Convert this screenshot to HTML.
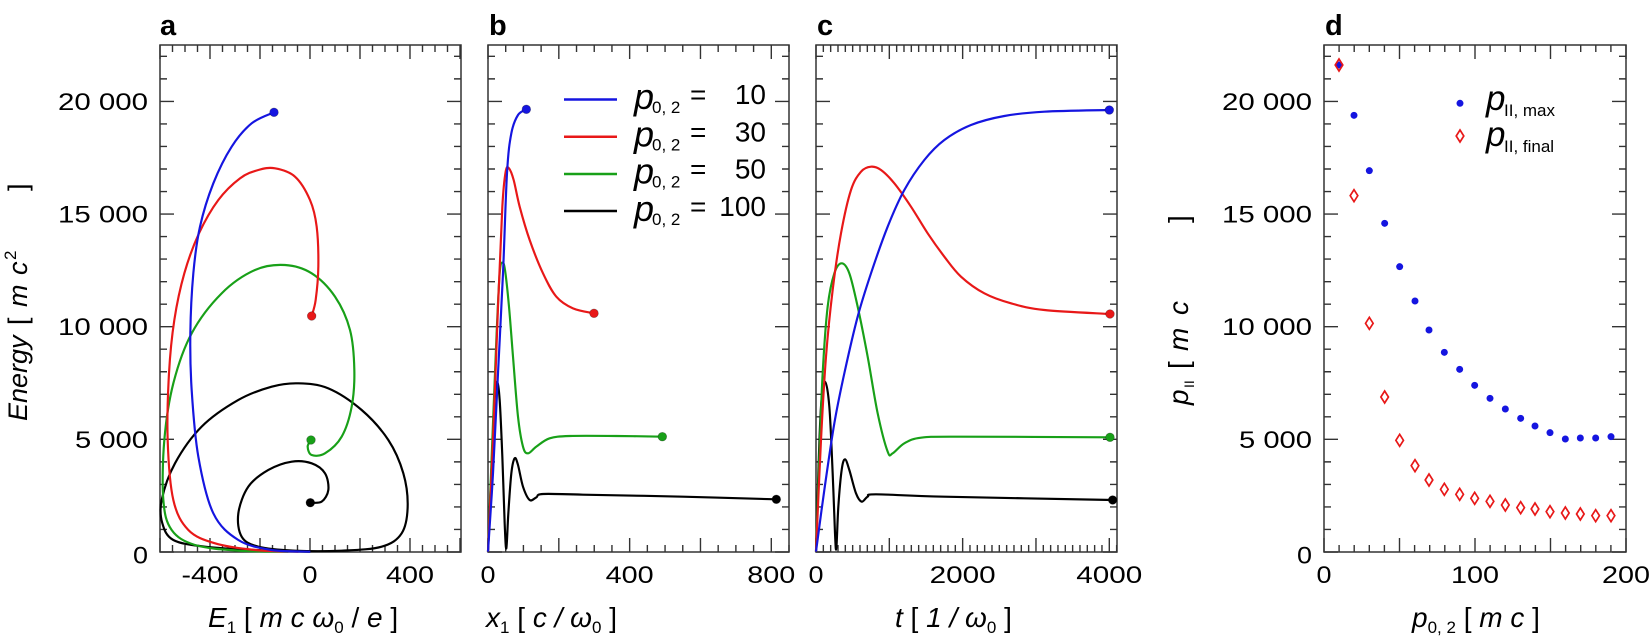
<!DOCTYPE html>
<html><head><meta charset="utf-8">
<style>
html,body{margin:0;padding:0;background:#fff;}
svg{display:block;font-family:"Liberation Sans","DejaVu Sans",sans-serif;}
</style></head>
<body>
<svg id="s" width="1650" height="642" viewBox="0 0 1650 642" xmlns="http://www.w3.org/2000/svg">
<g font-weight="bold" font-size="29">
<text x="160" y="35">a</text><text x="489" y="35">b</text><text x="817" y="35">c</text><text x="1325" y="35">d</text>
</g>
<!-- axis titles -->
<g font-size="28" fill="#000">
<text x="208" y="627"><tspan font-style="italic">E</tspan><tspan font-size="17" dy="6">1</tspan><tspan dy="-6"> [ </tspan><tspan font-style="italic">m c ω</tspan><tspan font-size="17" dy="6">0</tspan><tspan dy="-6"> / </tspan><tspan font-style="italic">e</tspan> ]</text>
<text x="486" y="627"><tspan font-style="italic">x</tspan><tspan font-size="17" dy="6">1</tspan><tspan dy="-6"> [ </tspan><tspan font-style="italic">c / ω</tspan><tspan font-size="17" dy="6">0</tspan><tspan dy="-6"> ]</tspan></text>
<text x="895" y="627"><tspan font-style="italic">t</tspan> [ <tspan font-style="italic">1 / ω</tspan><tspan font-size="17" dy="6">0</tspan><tspan dy="-6"> ]</tspan></text>
<text x="1412" y="627"><tspan font-style="italic">p</tspan><tspan font-size="17" dy="6">0, 2</tspan><tspan dy="-6"> [ </tspan><tspan font-style="italic">m c</tspan>  ]</text>
<g transform="translate(27,421) rotate(-90)" font-size="27">
<text x="0" y="0" font-style="italic">Energy</text>
<text x="96" y="0">[</text>
<text x="114" y="0" font-style="italic">m</text>
<text x="146" y="0" font-style="italic">c</text>
<text x="161" y="-11" font-size="17">2</text>
<text x="230" y="0">]</text>
</g>
<g transform="translate(1188,405) rotate(-90)" font-size="28">
<text x="0" y="0" font-style="italic">p</text>
<text x="17" y="6" font-size="14">II</text>
<text x="36" y="0">[</text>
<text x="54" y="0" font-style="italic">m</text>
<text x="90" y="0" font-style="italic">c</text>
<text x="182" y="0">]</text>
</g>
</g>
<!-- legend b -->
<g stroke-width="2.5">
<line x1="564" y1="99.5" x2="617" y2="99.5" stroke="#1515e0"/>
<line x1="564" y1="136.8" x2="617" y2="136.8" stroke="#e81818"/>
<line x1="564" y1="174" x2="617" y2="174" stroke="#18a018"/>
<line x1="564" y1="211" x2="617" y2="211" stroke="#000"/>
</g>
<g id="leg"></g>
<!-- legend d -->
<circle cx="1460" cy="103.3" r="3.5" fill="#1515e0"/>
<path d="M1460 130 L1463.8 136 L1460 142 L1456.2 136 Z" fill="none" stroke="#e81818" stroke-width="1.7"/>
<text x="1486" y="110" font-size="35" font-style="italic">p</text><text x="1504" y="116" font-size="17">II, max</text>
<text x="1486" y="146" font-size="35" font-style="italic">p</text><text x="1504" y="152" font-size="17">II, final</text>
<g id="ax"></g>
</svg>
<script>
var NS="http://www.w3.org/2000/svg",S=document.getElementById('s'),AX=document.getElementById('ax'),LEG=document.getElementById('leg');
function el(t,a,p){var e=document.createElementNS(NS,t);for(var k in a)e.setAttribute(k,a[k]);(p||AX).appendChild(e);return e;}
function txt(x,y,s,a,p){var e=el('text',Object.assign({x:x,y:y,'font-size':24},a||{}),p);e.textContent=s;return e;}
var B=552,T=45;
function Y(E){return B-E*0.02253;}
var BLUE="#1515e0",RED="#e81818",GREEN="#18a018",BLK="#000";
function panel(L,R,xmin,xmax,minor,major,xl,yl){
  var X=function(v){return L+(v-xmin)/(xmax-xmin)*(R-L);};
  el('rect',{x:L,y:T,width:R-L,height:B-T,fill:'none',stroke:'#333','stroke-width':1.5});
  var g='';
  for(var v=Math.ceil(xmin/minor)*minor;v<=xmax+1e-6;v+=minor){var x=X(v);var len=(Math.abs(v/major-Math.round(v/major))<1e-6)?14:7;g+='M'+x+' '+B+'v'+(-len)+'M'+x+' '+T+'v'+len;}
  for(var e=0;e<=22500;e+=1000){var y=Y(e);var len=(e%5000==0)?14:7;g+='M'+L+' '+y+'h'+len+'M'+R+' '+y+'h'+(-len);}
  el('path',{d:g,stroke:'#333','stroke-width':1.4,fill:'none'});
  xl.forEach(function(a){txt(X(a[0]),583,a[1],{'text-anchor':'middle',textLength:a[2],lengthAdjust:'spacingAndGlyphs'});});
  if(yl){[[0,'0',15],[5000,'5 000',73],[10000,'10 000',90],[15000,'15 000',90],[20000,'20 000',90]].forEach(function(a){txt(L-12,Y(a[0])+8.5+(a[0]==0?3:0),a[1],{'text-anchor':'end',textLength:a[2],lengthAdjust:'spacingAndGlyphs'});});}
  return X;
}
panel(160,461,-600,604,50,200,[[-400,'-400',57],[0,'0',15],[400,'400',48]],true);
panel(488,789,0,850,50,200,[[0,'0',15],[400,'400',48],[800,'800',48]],false);
panel(816,1117,0,4105,100,1000,[[0,'0',15],[2000,'2000',66],[4000,'4000',66]],false);
var XD=panel(1324,1626,0,200,10,50,[[0,'0',15],[100,'100',48],[200,'200',48]],true);

function cr(p){var d='M'+p[0][0]+' '+p[0][1];for(var i=0;i<p.length-1;i++){var p0=p[i-1]||p[i],p1=p[i],p2=p[i+1],p3=p[i+2]||p2;
 d+='C'+(p1[0]+(p2[0]-p0[0])/6)+' '+(p1[1]+(p2[1]-p0[1])/6)+' '+(p2[0]-(p3[0]-p1[0])/6)+' '+(p2[1]-(p3[1]-p1[1])/6)+' '+p2[0]+' '+p2[1];}return d;}
function curves(ox,oy,list){var g=el('g',{transform:'translate('+ox+','+oy+') scale(0.33333)'});
 list.forEach(function(c){el('path',{d:cr(c[1]),fill:'none',stroke:c[0],'stroke-width':6.5,'stroke-linejoin':'round'},g);var q=c[1][c[1].length-1];el('circle',{cx:q[0],cy:q[1],r:13,fill:c[0],stroke:'#000','stroke-opacity':0.35,'stroke-width':2},g);});}
// panel a
curves(155,40,[
[BLK,[[466,1535],[300,1530],[150,1520],[55,1500],[22,1450],[20,1380],[60,1270],[140,1160],[250,1080],[350,1040],[430,1030],[520,1045],[620,1110],[700,1200],[745,1300],[758,1400],[740,1480],[680,1520],[560,1532],[420,1532],[310,1520],[260,1490],[250,1420],[280,1340],[340,1290],[410,1265],[470,1270],[510,1300],[520,1350],[500,1385],[466,1388]]],
[GREEN,[[400,1535],[250,1532],[120,1515],[50,1470],[25,1380],[28,1200],[55,1030],[110,880],[200,760],[300,690],[390,675],[470,700],[540,770],[585,870],[598,990],[590,1100],[560,1190],[510,1240],[470,1245],[458,1220],[468,1200]]],
[RED,[[430,1535],[300,1530],[180,1510],[100,1470],[55,1380],[38,1200],[42,1000],[58,840],[88,700],[132,580],[190,480],[255,415],[310,390],[360,385],[420,410],[465,480],[485,560],[490,680],[482,780],[470,828]]],
[BLUE,[[466,1535],[350,1530],[250,1500],[175,1420],[130,1250],[110,1050],[106,880],[115,700],[135,560],[175,430],[230,320],[290,250],[357,217]]]
]);
// panel b
curves(483,40,[
[BLK,[[15,1535],[25,1300],[35,1080],[42,1025],[50,1080],[58,1250],[65,1450],[70,1525],[76,1420],[85,1300],[95,1255],[105,1275],[120,1340],[140,1380],[160,1372],[180,1362],[300,1364],[600,1370],[880,1378]]],
[GREEN,[[15,1535],[28,1200],[40,900],[50,700],[58,668],[66,690],[78,800],[90,950],[105,1130],[120,1220],[135,1240],[160,1220],[200,1195],[260,1188],[400,1188],[538,1190]]],
[RED,[[15,1535],[30,1200],[45,800],[58,500],[68,395],[78,385],[92,420],[110,500],[140,600],[180,700],[220,770],[270,805],[333,820]]],
[BLUE,[[15,1535],[30,1300],[45,1000],[60,700],[72,400],[85,280],[105,225],[130,208]]]
]);
// panel c
curves(811,40,[
[BLK,[[15,1535],[22,1300],[30,1100],[42,1025],[55,1100],[65,1300],[72,1480],[76,1525],[82,1400],[92,1290],[102,1258],[115,1290],[135,1360],[152,1385],[170,1370],[195,1363],[400,1370],[905,1380]]],
[GREEN,[[15,1535],[25,1250],[35,1000],[50,800],[70,700],[92,670],[115,700],[140,800],[170,950],[200,1120],[230,1235],[245,1240],[280,1210],[330,1193],[450,1190],[897,1192]]],
[RED,[[15,1535],[30,1200],[45,950],[65,750],[90,580],[120,450],[150,395],[180,380],[210,390],[250,430],[300,500],[350,580],[400,650],[450,710],[520,760],[600,790],[700,810],[897,822]]],
[BLUE,[[15,1535],[40,1350],[70,1150],[100,1000],[140,830],[180,700],[230,560],[280,450],[340,360],[400,300],[480,255],[580,228],[700,215],[895,210]]]
]);
// panel d points
var dx=[417,462,508,554,599,645,687,733,779,824,870,916,962,1005,1050,1096,1141,1187,1233];
var by=[75,226,392,550,680,783,870,937,988,1036,1075,1107,1135,1158,1178,1197,1194,1194,1190];
var ry=[75,467,850,1071,1201,1277,1320,1348,1363,1375,1384,1395,1403,1407,1415,1419,1422,1427,1427];
for(var i=0;i<dx.length;i++){var x=1200+dx[i]/3;
 el('circle',{cx:x,cy:40+by[i]/3,r:3.5,fill:BLUE});
 var y=40+ry[i]/3;el('path',{d:'M'+x+' '+(y-6)+'L'+(x+3.8)+' '+y+'L'+x+' '+(y+6)+'L'+(x-3.8)+' '+y+'Z',fill:'none',stroke:RED,'stroke-width':1.7});}
// legend b text
[['10',104],['30',141.3],['50',178.6],['100',216]].forEach(function(r){
 var b=r[1];
 txt(634,b+5,'p',{'font-size':36,'font-style':'italic'},LEG);
 txt(652,b+9,'0, 2',{'font-size':17},LEG);
 txt(690,b,'=',{'font-size':28},LEG);
 txt(766,b,r[0],{'font-size':28,'text-anchor':'end'},LEG);
});
</script>
</body></html>
